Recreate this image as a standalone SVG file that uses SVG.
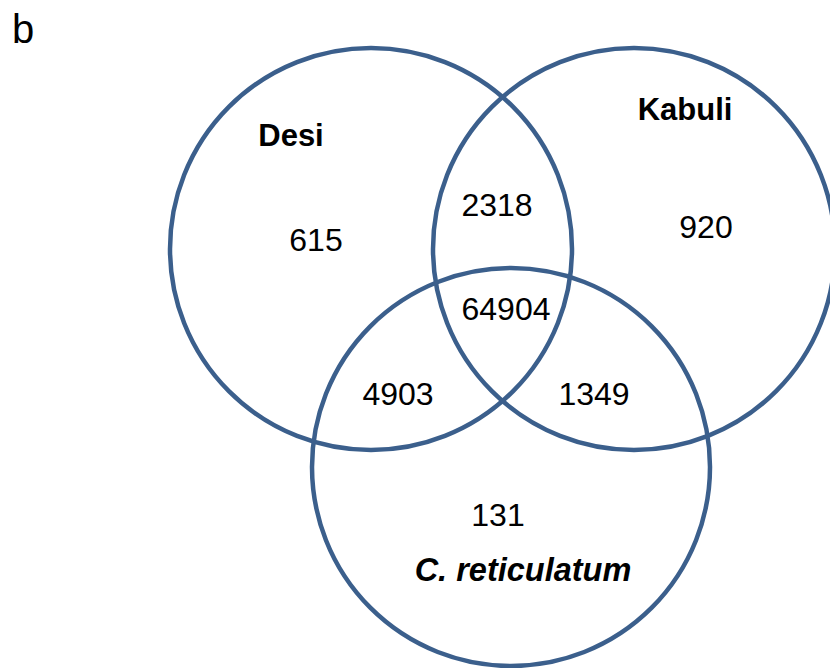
<svg xmlns="http://www.w3.org/2000/svg" width="830" height="668" viewBox="0 0 830 668">
  <style>
    .set { fill: none; stroke: #3B5F8C; stroke-width: 4.5; }
    .num { font-family: "Liberation Sans", Arial, sans-serif; font-size: 32px; fill: #000; text-anchor: middle; }
    .name { font-family: "Liberation Sans", Arial, sans-serif; font-size: 31px; font-weight: bold; fill: #000; text-anchor: middle; }
    .species { font-style: italic; font-size: 32.5px; }
    .panel { font-family: "Liberation Sans", Arial, sans-serif; font-size: 40px; fill: #000; }
  </style>
  <rect width="830" height="668" fill="#fff"/>

  <text class="panel" x="12" y="43">b</text>

  <!-- three overlapping sets -->
  <g id="desi">
    <circle class="set" cx="371" cy="249" r="201"/>
    <text class="name" x="291" y="146">Desi</text>
    <text class="num" x="316" y="251">615</text>
  </g>
  <g id="kabuli">
    <circle class="set" cx="634" cy="249" r="201"/>
    <text class="name" x="685" y="120">Kabuli</text>
    <text class="num" x="706" y="238">920</text>
  </g>
  <g id="reticulatum">
    <circle class="set" cx="511" cy="467" r="199"/>
    <text class="name species" x="523" y="581">C. reticulatum</text>
    <text class="num" x="498" y="526">131</text>
  </g>

  <!-- overlap counts -->
  <g id="overlaps">
    <text class="num" x="497" y="216">2318</text>
    <text class="num" x="506" y="320">64904</text>
    <text class="num" x="398" y="405">4903</text>
    <text class="num" x="594" y="405">1349</text>
  </g>
</svg>
